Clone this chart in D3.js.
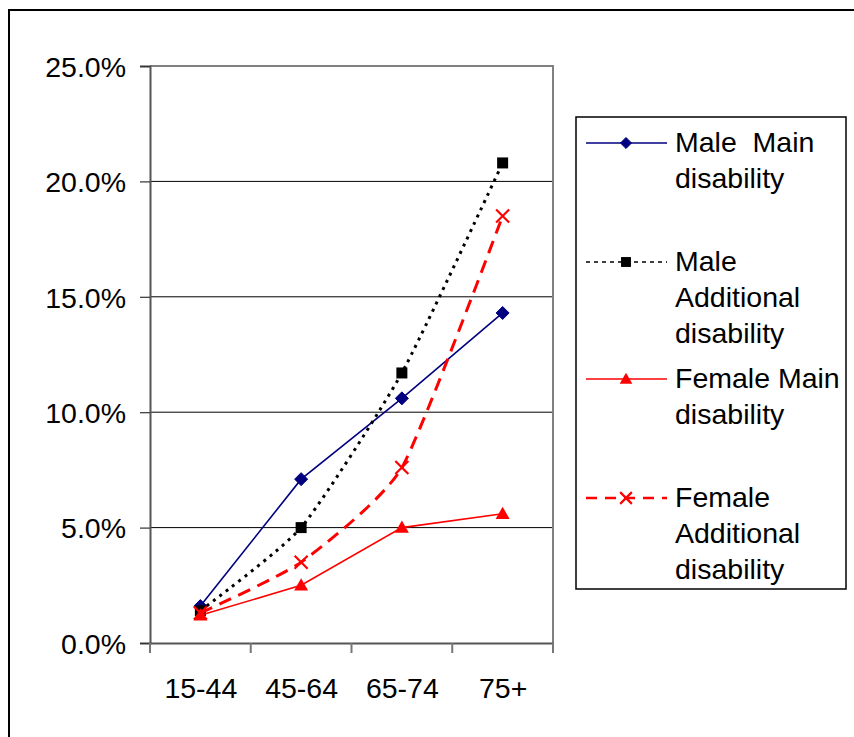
<!DOCTYPE html>
<html><head><meta charset="utf-8">
<script src="https://cdn.jsdelivr.net/npm/d3@7"></script>
<style>body{margin:0;background:#fff}svg{display:block}text{font-family:"Liberation Sans",Arial,sans-serif;fill:#000}</style>
</head><body>
<svg id="c" width="854" height="737"></svg>
<script>
const categories = ["15-44", "45-64", "65-74", "75+"];
const maleMain = [1.6, 7.1, 10.6, 14.3];
const maleAdditional = [1.4, 5.0, 11.7, 20.8];
const femaleMain = [1.2, 2.5, 5.0, 5.6];
const femaleAdditional = [1.3, 3.5, 7.6, 18.5];
const yTicks = [0, 5, 10, 15, 20, 25];
const seriesNames = [["Male  Main", "disability"], ["Male", "Additional", "disability"], ["Female Main", "disability"], ["Female", "Additional", "disability"]];

const series = [
  {name: seriesNames[0], values: maleMain, color: "#000080", width: 1.6, dash: null, smooth: false, marker: "diamond", lw: 1.6, ldash: null},
  {name: seriesNames[1], values: maleAdditional, color: "#000000", width: 3, dash: "3,5", smooth: true, marker: "square", lw: 1.5, ldash: "4,4"},
  {name: seriesNames[2], values: femaleMain, color: "#FF0000", width: 1.6, dash: null, smooth: false, marker: "triangle", lw: 1.6, ldash: null},
  {name: seriesNames[3], values: femaleAdditional, color: "#FF0000", width: 3, dash: "13,8", smooth: true, marker: "x", lw: 2.5, ldash: "11,8"}
];

const svg = d3.select("#c");
const L = 150, R = 553, T = 66, B = 643;
const x = d3.scalePoint().domain(categories).range([L, R]).padding(0.5);
const y = d3.scaleLinear().domain([0, 25]).range([B, T]);

// outer border
svg.append("rect").attr("x", 9).attr("y", 10).attr("width", 900).attr("height", 800)
  .attr("fill", "none").attr("stroke", "#000").attr("stroke-width", 2);

// gridlines
svg.append("g").selectAll("line").data(yTicks.filter(d => d > 0 && d < 25)).join("line")
  .attr("x1", L).attr("x2", R).attr("y1", d => y(d)).attr("y2", d => y(d))
  .attr("stroke", "#000").attr("stroke-width", 1);

// plot frame top/right
svg.append("path").attr("d", `M${L},${T}H${R}V${B}`).attr("fill", "none").attr("stroke", "#808080").attr("stroke-width", 2);

// y axis
const yAxis = d3.axisLeft(y).tickValues(yTicks).tickSize(10).tickPadding(14).tickFormat(d => d.toFixed(1) + "%");
const gy = svg.append("g").attr("transform", `translate(${L},0)`).call(yAxis);
gy.select(".domain").attr("stroke", "#555").attr("stroke-width", 2);
gy.selectAll(".tick line").attr("stroke", "#333").attr("stroke-width", 1.2);
gy.selectAll(".tick text").attr("font-size", 28.5).attr("font-family", "Liberation Sans, Arial, sans-serif").attr("fill", "#000").attr("dy", "0.36em");

// x axis
const xb = d3.scaleBand().domain(categories).range([L, R]);
const xAxis = d3.axisBottom(x).tickSize(0).tickPadding(35);
const gx = svg.append("g").attr("transform", `translate(0,${B})`).call(xAxis);
gx.select(".domain").attr("stroke", "#555").attr("stroke-width", 2);
gx.selectAll(".tick text").attr("font-size", 28.5).attr("font-family", "Liberation Sans, Arial, sans-serif").attr("fill", "#000");
gx.append("g").selectAll("line").data(categories.concat(["__end"])).join("line")
  .attr("x1", d => d === "__end" ? R : xb(d)).attr("x2", d => d === "__end" ? R : xb(d))
  .attr("y1", 0).attr("y2", 10).attr("stroke", "#777").attr("stroke-width", 2);

function marker(g, type, color, cx, cy, scale) {
  const s = scale || 1;
  if (type === "diamond") {
    const r = 6.5 * s;
    g.append("path").attr("d", `M${cx},${cy - r}L${cx + r},${cy}L${cx},${cy + r}L${cx - r},${cy}Z`).attr("fill", color).attr("stroke", color).attr("stroke-width", 1);
  } else if (type === "square") {
    const r = 5.5 * s;
    g.append("rect").attr("x", cx - r).attr("y", cy - r).attr("width", 2 * r).attr("height", 2 * r).attr("fill", color);
  } else if (type === "triangle") {
    const r = 7 * s;
    g.append("path").attr("d", `M${cx},${cy - r}L${cx + r},${cy + r * 0.75}L${cx - r},${cy + r * 0.75}Z`).attr("fill", color);
  } else if (type === "x") {
    const r = 6.5 * s;
    g.append("path").attr("d", `M${cx - r},${cy - r}L${cx + r},${cy + r}M${cx - r},${cy + r}L${cx + r},${cy - r}`).attr("stroke", color).attr("stroke-width", 2.2).attr("fill", "none");
  }
}

// series
series.forEach(s => {
  const g = svg.append("g");
  const pts = categories.map((c, i) => [x(c), y(s.values[i])]);
  const line = d3.line().curve(s.smooth ? d3.curveCardinal.tension(0.45) : d3.curveLinear);
  g.append("path").attr("d", line(pts)).attr("fill", "none").attr("stroke", s.color)
    .attr("stroke-width", s.width).attr("stroke-dasharray", s.dash);
  pts.forEach(p => marker(g, s.marker, s.color, p[0], p[1]));
});

// legend
const lg = svg.append("g");
lg.append("rect").attr("x", 576).attr("y", 117).attr("width", 270).attr("height", 472)
  .attr("fill", "#fff").attr("stroke", "#000").attr("stroke-width", 1.5);
const entryY = [143, 262, 379, 498];
series.forEach((s, i) => {
  const cy = entryY[i];
  lg.append("line").attr("x1", 586).attr("x2", 667).attr("y1", cy).attr("y2", cy)
    .attr("stroke", s.color).attr("stroke-width", s.lw).attr("stroke-dasharray", s.ldash);
  marker(lg, s.marker, s.color, 626, cy, s.marker === "diamond" ? 0.85 : 0.9);
  const t = lg.append("text").attr("x", 675).attr("y", cy + 9).attr("font-size", 28.5).style("white-space", "pre");
  s.name.forEach((ln, j) => t.append("tspan").attr("x", 675).attr("dy", j === 0 ? 0 : 35.8).text(ln));
});
</script>
</body></html>
